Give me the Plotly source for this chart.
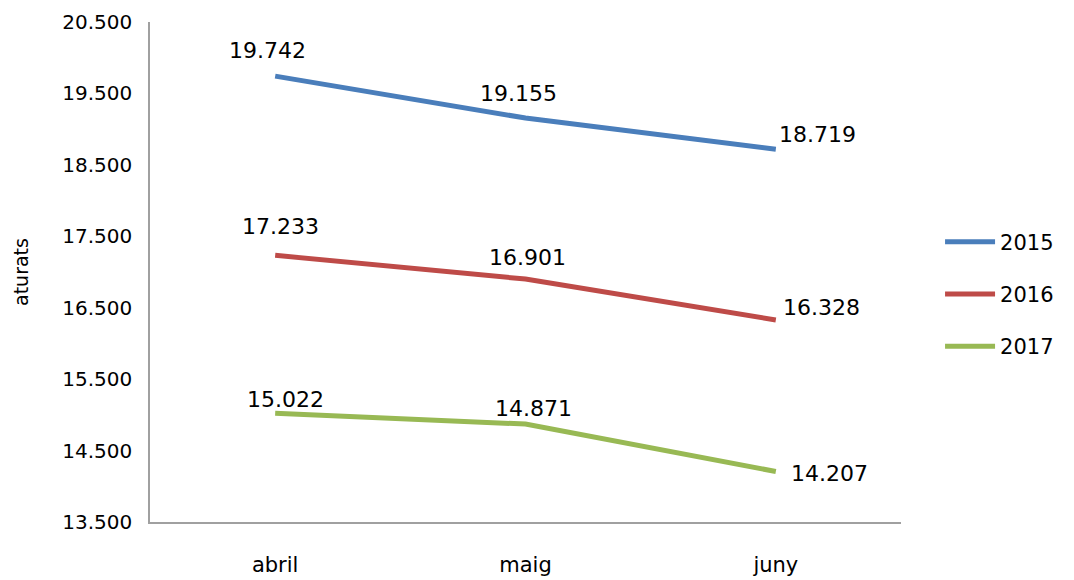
import plotly.graph_objects as go

months = ["abril", "maig", "juny"]
series_names = ["2015", "2016", "2017"]
values_2015 = [19742, 19155, 18719]
values_2016 = [17233, 16901, 16328]
values_2017 = [15022, 14871, 14207]
y_ticks = [13500, 14500, 15500, 16500, 17500, 18500, 19500, 20500]

series = [values_2015, values_2016, values_2017]
colors = ["#4a7ebb", "#be4b48", "#98b954"]

# label pixel offsets (style) per series and point: (xshift, yshift, xanchor)
label_offsets = [
    [(-8, 26, "center"), (-7, 25, "center"), (1, 15, "left")],
    [(5, 29, "center"), (2, 22, "center"), (5, 13, "left")],
    [(10, 14, "center"), (8, 16, "center"), (13, -2, "left")],
]

FONT = "DejaVu Sans"

fig = go.Figure()
annotations = []
for i, (name, vals, col) in enumerate(zip(series_names, series, colors)):
    fig.add_trace(go.Scatter(
        x=months, y=vals, name=name, mode="lines",
        line=dict(color=col, width=5),
        legendgroup=name, hoverinfo="skip",
    ))
    for j, (m, v) in enumerate(zip(months, vals)):
        dx, dy, anc = label_offsets[i][j]
        annotations.append(dict(
            x=m, y=v, xref="x", yref="y",
            text=f"{v:,}".replace(",", "."),
            showarrow=False, xanchor=anc, yanchor="middle",
            xshift=dx, yshift=dy,
            font=dict(family=FONT, size=22, color="#000000"),
        ))

# page body has an 8px default margin, so the figure is drawn 8px in
fig.update_layout(
    width=1066, height=572,
    margin=dict(l=142, r=173, t=14, b=58),
    paper_bgcolor="white", plot_bgcolor="white",
    separators=",.",
    font=dict(family=FONT, color="#000000"),
    showlegend=True,
    legend=dict(
        x=1.052, y=0.456, xanchor="left", yanchor="middle",
        font=dict(family=FONT, size=21),
        tracegroupgap=22, itemwidth=50,
        bgcolor="rgba(0,0,0,0)",
    ),
    annotations=annotations,
)
fig.update_xaxes(
    type="category", range=[-0.5, 2.5], automargin=False,
    showline=True, linecolor="#a0a0a0", linewidth=1.5,
    showgrid=False, zeroline=False, ticks="",
    tickfont=dict(family=FONT, size=21), ticklabelstandoff=23,
)
fig.update_yaxes(
    range=[13500, 20500], tickvals=y_ticks, tickformat=",", automargin=False,
    showline=True, linecolor="#a0a0a0", linewidth=1.5,
    showgrid=False, zeroline=False, ticks="",
    tickfont=dict(family=FONT, size=20), ticklabelstandoff=12,
    title=dict(text="aturats", font=dict(family=FONT, size=19), standoff=29),
)

fig.write_html("out.html")
